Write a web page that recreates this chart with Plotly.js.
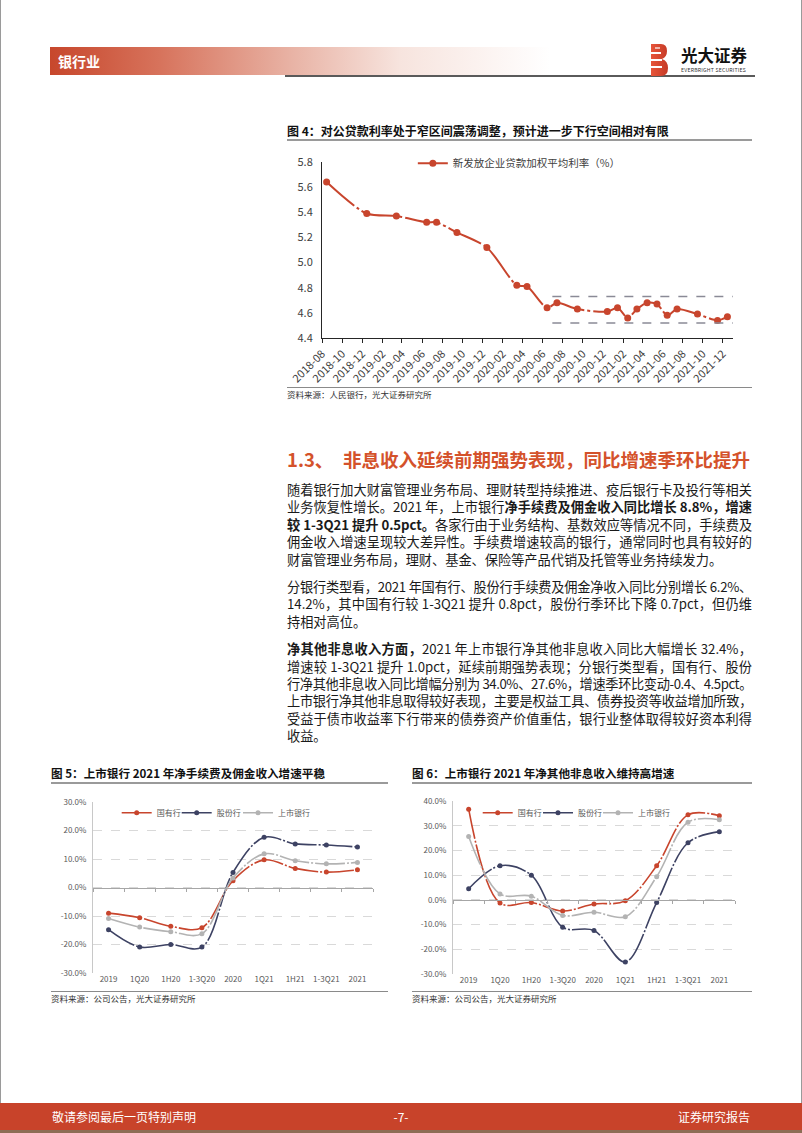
<!DOCTYPE html>
<html><head><meta charset="utf-8">
<script src="https://cdn.plot.ly/plotly-3.0.1.min.js"></script>
<style>
html,body{margin:0;padding:0;background:#fff;}
#page{position:relative;width:802px;height:1133px;overflow:hidden;font-family:"Noto Sans CJK SC","Noto Sans",sans-serif;color:#1a1a1a;}
.abs{position:absolute;white-space:nowrap;}
.line{position:absolute;left:287px;width:465px;height:18px;line-height:18px;font-size:13.2px;text-align:justify;text-align-last:justify;white-space:nowrap;}
.line.last{text-align:left;text-align-last:left;}
.line b{font-weight:700;}
.ctitle{position:absolute;font-weight:700;white-space:nowrap;color:#111;}
.rule{position:absolute;height:0;border-top:2px solid #9a9a9a;}
.rule1{position:absolute;height:0;border-top:1px solid #8a8a8a;}
.src{position:absolute;font-size:8.5px;color:#333;white-space:nowrap;}
.chart{position:absolute;}
</style></head>
<body>
<div id="page">
  <div class="abs" style="left:0;top:0;width:1px;height:1133px;background:#9a9a9a"></div>
  <div class="abs" style="left:801px;top:0;width:1px;height:1133px;background:#9a9a9a"></div>

  <!-- header -->
  <div class="abs" style="left:50px;top:47px;width:500px;height:28px;background:linear-gradient(to right,#c7472c 0%,#d7735c 22%,#e8b2a4 48%,#f7e4de 70%,#ffffff 100%);"></div>
  <div class="abs" style="left:58px;top:51px;font-size:14px;line-height:20px;font-weight:700;color:#fff;">银行业</div>
  <div class="abs" style="left:285px;top:75px;width:470px;height:2px;background:#5a5a5a;"></div>
  <svg class="abs" style="left:650px;top:43px" width="20" height="34" viewBox="0 0 20 34">
    <defs><linearGradient id="lg" x1="0" y1="0" x2="1" y2="0"><stop offset="0" stop-color="#e7553a"/><stop offset="1" stop-color="#c53a26"/></linearGradient></defs>
    <path d="M1 1 H11 Q17 1 17 8 Q17 14 12 16 Q18 18 18 25 Q18 33 11 33 H1 Z" fill="url(#lg)"/>
    <rect x="0" y="9" width="11" height="2" fill="#fff"/>
    <rect x="0" y="16" width="12" height="2" fill="#fff"/>
    <rect x="0" y="23" width="12" height="2" fill="#fff"/>
    <rect x="5" y="4" width="5" height="2" fill="#fff" opacity="0.6"/>
  </svg>
  <div class="abs" style="left:681px;top:45px;font-size:16.5px;line-height:20px;font-weight:700;color:#111;">光大证券</div>
  <div class="abs" style="left:681px;top:66px;font-size:5.2px;line-height:7px;color:#333;letter-spacing:0.2px;">EVERBRIGHT SECURITIES</div>

  <!-- figure 4 -->
  <div class="ctitle" style="left:287px;top:122px;font-size:12px;line-height:17px;">图 4：对公贷款利率处于窄区间震荡调整，预计进一步下行空间相对有限</div>
  <div class="rule" style="left:287px;top:139px;width:465px;"></div>
  <div id="c4" class="chart" style="left:250px;top:145px;width:520px;height:260px;"></div>
  <div class="rule1" style="left:287px;top:387px;width:465px;"></div>
  <div class="src" style="left:287px;top:388px;line-height:12px;">资料来源：人民银行，光大证券研究所</div>

  <!-- section heading -->
  <div class="abs" style="left:287px;top:447px;font-size:18.5px;line-height:24px;font-weight:700;color:#d4522b;">1.3、</div>
  <div class="abs" style="left:343px;top:447px;font-size:18.5px;line-height:24px;font-weight:700;color:#d4522b;">非息收入延续前期强势表现，同比增速季环比提升</div>

  <div id="body"></div>

  <!-- figure 5 & 6 -->
  <div class="ctitle" style="left:51px;top:765px;font-size:11.6px;line-height:16px;">图 5：上市银行 2021 年净手续费及佣金收入增速平稳</div>
  <div class="rule" style="left:51px;top:782px;width:337px;"></div>
  <div class="ctitle" style="left:412px;top:765px;font-size:11.6px;line-height:16px;">图 6：上市银行 2021 年净其他非息收入维持高增速</div>
  <div class="rule" style="left:412px;top:782px;width:340px;"></div>
  <div id="c5" class="chart" style="left:40px;top:790px;width:350px;height:200px;"></div>
  <div id="c6" class="chart" style="left:405px;top:790px;width:350px;height:200px;"></div>
  <div class="rule1" style="left:51px;top:991px;width:337px;"></div>
  <div class="src" style="left:51px;top:992px;line-height:12px;">资料来源：公司公告，光大证券研究所</div>
  <div class="rule1" style="left:412px;top:991px;width:340px;"></div>
  <div class="src" style="left:412px;top:992px;line-height:12px;">资料来源：公司公告，光大证券研究所</div>

  <!-- footer -->
  <div class="abs" style="left:0;top:1103px;width:802px;height:27px;background:#c8432a;"></div>
  <div class="abs" style="left:0;top:1130px;width:802px;height:3px;background:#8d6d55;"></div>
  <div class="abs" style="left:52px;top:1108px;font-size:12px;line-height:17px;color:#fff;">敬请参阅最后一页特别声明</div>
  <div class="abs" style="left:391px;top:1108px;width:20px;text-align:center;font-size:12px;line-height:17px;color:#fff;">-7-</div>
  <div class="abs" style="left:678px;top:1108px;font-size:12px;line-height:17px;color:#fff;">证券研究报告</div>
</div>

<script>
// ---------------- text ----------------
const para1 = [
 '随着银行加大财富管理业务布局、理财转型持续推进、疫后银行卡及投行等相关',
 '业务恢复性增长。2021 年，上市银行<b>净手续费及佣金收入同比增长 8.8%，增速</b>',
 '<b>较 1-3Q21 提升 0.5pct。</b>各家行由于业务结构、基数效应等情况不同，手续费及',
 '佣金收入增速呈现较大差异性。手续费增速较高的银行，通常同时也具有较好的',
 '财富管理业务布局，理财、基金、保险等产品代销及托管等业务持续发力。'
];
const para2 = [
 '分银行类型看，2021 年国有行、股份行手续费及佣金净收入同比分别增长 6.2%、',
 '14.2%，其中国有行较 1-3Q21 提升 0.8pct，股份行季环比下降 0.7pct，但仍维',
 '持相对高位。'
];
const para3 = [
 '<b>净其他非息收入方面，</b>2021 年上市银行净其他非息收入同比大幅增长 32.4%，',
 '增速较 1-3Q21 提升 1.0pct，延续前期强势表现；分银行类型看，国有行、股份',
 '行净其他非息收入同比增幅分别为 34.0%、27.6%，增速季环比变动-0.4、4.5pct。',
 '上市银行净其他非息取得较好表现，主要是权益工具、债券投资等收益增加所致，',
 '受益于债市收益率下行带来的债券资产价值重估，银行业整体取得较好资本利得',
 '收益。'
];

(function(){
  const body = document.getElementById('body');
  const lineH = 17.4, gap = 10;
  let c = 490;
  [para1, para2, para3].forEach((p) => {
    p.forEach((t, i) => {
      const d = document.createElement('div');
      d.className = 'line' + (i === p.length - 1 ? ' last' : '');
      d.style.top = (c - 9) + 'px';
      d.innerHTML = t;
      body.appendChild(d);
      // squeeze lines that are naturally wider than the column
      if (i !== p.length - 1) {
        const probe = document.createElement('span');
        probe.style.cssText = 'position:absolute;visibility:hidden;white-space:nowrap;font-size:13.2px;';
        probe.innerHTML = t;
        body.appendChild(probe);
        const w = probe.getBoundingClientRect().width;
        body.removeChild(probe);
        if (w > 463) {
          const n = probe.textContent.length;
          d.style.letterSpacing = (-(w - 462) / n).toFixed(3) + 'px';
        }
      }
      c += lineH;
    });
    c += gap;
  });
})();

// ---------------- chart data ----------------
const F = '"Noto Sans CJK SC","Noto Sans",sans-serif';
const RED = '#c8452d', NAVY = '#3d4263', GRAY = '#b3b3b3';

// Figure 4
const months4 = ['2018-08','2018-12','2019-03','2019-06','2019-07','2019-09','2019-12','2020-03','2020-04','2020-06','2020-07','2020-09','2020-12','2021-01','2021-02','2021-03','2021-04','2021-05','2021-06','2021-07','2021-09','2021-11','2021-12'];
const rate4 = [5.64,5.39,5.37,5.32,5.32,5.24,5.12,4.82,4.81,4.64,4.68,4.63,4.61,4.64,4.56,4.63,4.68,4.67,4.58,4.63,4.59,4.54,4.57];
const xTicks4 = ['2018-08','2018-10','2018-12','2019-02','2019-04','2019-06','2019-08','2019-10','2019-12','2020-02','2020-04','2020-06','2020-08','2020-10','2020-12','2021-02','2021-04','2021-06','2021-08','2021-10','2021-12'];
const seriesName4 = '新发放企业贷款加权平均利率（%）';
const bandTop4 = 4.73, bandBottom4 = 4.52, bandStart4 = '2020-07';

// Figures 5 & 6
const periods = ['2019','1Q20','1H20','1-3Q20','2020','1Q21','1H21','1-3Q21','2021'];
const seriesNames = ['国有行','股份行','上市银行'];
const fee_soe = [-9.0,-10.6,-13.6,-14.1,2.4,9.7,6.7,5.4,6.2];
const fee_jsb = [-14.8,-20.9,-20.0,-20.9,5.3,17.6,15.3,14.9,14.2];
const fee_all = [-10.9,-13.9,-15.5,-16.2,3.3,11.8,9.4,8.3,8.8];
const oth_soe = [36.7,-1.3,-1.1,-4.5,-1.7,-0.4,13.8,34.4,34.0];
const oth_jsb = [4.5,13.8,10.0,-11.1,-12.4,-25.1,-1.1,23.1,27.6];
const oth_all = [25.6,2.4,1.5,-6.3,-5.0,-6.8,9.4,31.4,32.4];
const yTicks5 = [-30,-20,-10,0,10,20,30];
const yLabels5 = ['-30.0%','-20.0%','-10.0%','0.0%','10.0%','20.0%','30.0%'];
const yTicks6 = [-30,-20,-10,0,10,20,30,40];
const yLabels6 = ['-30.0%','-20.0%','-10.0%','0.0%','10.0%','20.0%','30.0%','40.0%'];

// ---------------- figure 4 ----------------
Plotly.newPlot('c4', [{
  x: months4.map(m => m + '-15'), y: rate4, type: 'scatter', mode: 'lines+markers',
  name: seriesName4,
  line: {color: RED, width: 2, shape: 'spline', smoothing: 0.8, dash: '36px,3px,3px,3px'},
  marker: {color: RED, size: 7}
}], {
  width: 520, height: 260, margin: {l: 72, r: 37, t: 17, b: 67, autoexpand: false},
  paper_bgcolor: 'rgba(0,0,0,0)', plot_bgcolor: 'rgba(0,0,0,0)',
  font: {family: F, size: 11, color: '#404040'},
  showlegend: true,
  legend: {x: 0.221, y: 0.9296, yref: 'container', xanchor: 'left', yanchor: 'middle', orientation: 'h',
           bgcolor: 'rgba(0,0,0,0)', font: {size: 10.5, color: '#404040'}},
  xaxis: {type: 'date', range: ['2018-08-01', '2022-01-01'],
          tickvals: xTicks4.map(m => m + '-01'), ticktext: xTicks4, tickangle: -45,
          ticks: 'outside', ticklen: 4, tickcolor: '#262626',
          showline: true, linecolor: '#262626', linewidth: 1, showgrid: false, zeroline: false,
          tickfont: {size: 11, color: '#404040'}},
  yaxis: {range: [4.4, 5.8], tickvals: [4.4,4.6,4.8,5.0,5.2,5.4,5.6,5.8], tickformat: '.1f',
          showline: true, linecolor: '#262626', linewidth: 1, showgrid: false, zeroline: false,
          ticks: '', ticklabelstandoff: 6, tickfont: {size: 11, color: '#404040'}},
  shapes: [bandTop4, bandBottom4].map(v => ({
    type: 'line', xref: 'x', yref: 'y', x0: bandStart4 + '-01', x1: '2022-01-01', y0: v, y1: v,
    line: {color: '#8a8a96', width: 1.5, dash: 'dash'}
  }))
}, {staticPlot: true});

// ---------------- figures 5 & 6 ----------------
function growthChart(id, soe, jsb, all, yRange, tickv, tickt, zeroPos, legXs, legY, width, margin) {
  const mk = (y, name, color, leg) => ({
    x: periods, y: y, type: 'scatter', mode: 'lines+markers', name: name, legend: leg,
    line: {color: color, width: 1.6, shape: 'spline', smoothing: 1, dash: '30px,2px,2px,2px'},
    marker: {color: color, size: 5}
  });
  const traces = [
    mk(soe, seriesNames[0], RED, 'legend'),
    mk(jsb, seriesNames[1], NAVY, 'legend2'),
    mk(all, seriesNames[2], GRAY, 'legend3'),
    {x: [], y: [], xaxis: 'x2', yaxis: 'y', type: 'scatter', mode: 'lines', showlegend: false, hoverinfo: 'skip'}
  ];
  const legendBase = {y: legY, yref: 'container', xanchor: 'left', yanchor: 'middle', orientation: 'h',
                      bgcolor: 'rgba(0,0,0,0)', font: {size: 8, color: '#595959'}};
  const bounds = periods.map((p, i) => i - 0.5).concat([periods.length - 0.5]);
  Plotly.newPlot(id, traces, {
    width: width, height: 200, margin: Object.assign({autoexpand: false}, margin),
    paper_bgcolor: 'rgba(0,0,0,0)', plot_bgcolor: 'rgba(0,0,0,0)',
    font: {family: F, size: 8, color: '#595959'},
    showlegend: true,
    legend: Object.assign({x: legXs[0]}, legendBase),
    legend2: Object.assign({x: legXs[1]}, legendBase),
    legend3: Object.assign({x: legXs[2]}, legendBase),
    xaxis: {type: 'category', range: [-0.5, periods.length - 0.5], ticks: '', showline: false,
            showgrid: false, zeroline: false, tickfont: {size: 8, color: '#595959'}},
    xaxis2: {type: 'linear', overlaying: 'x', anchor: 'free', position: zeroPos,
             range: [-0.5, periods.length - 0.5], tickvals: bounds, ticks: 'outside', ticklen: 3,
             tickcolor: '#a6a6a6', showline: true, linecolor: '#a6a6a6', linewidth: 1,
             showticklabels: false, showgrid: false, zeroline: false},
    yaxis: {range: yRange, tickvals: tickv, ticktext: tickt, showgrid: true, gridcolor: '#d9d9d9',
            griddash: 'dash', gridwidth: 1, showline: true, linecolor: '#c8c8c8', zeroline: false,
            ticks: '', ticklabelstandoff: 4, tickfont: {size: 8, color: '#595959'}}
  }, {staticPlot: true});
}
growthChart('c5', fee_soe, fee_jsb, fee_all, [-30, 30], yTicks5, yLabels5, 0.5,
            [0.0846, 0.2989, 0.5179], 0.8865, 350, {l: 53, r: 17, t: 12, b: 17});
growthChart('c6', oth_soe, oth_jsb, oth_all, [-30, 40], yTicks6, yLabels6, 30/70,
            [0.0876, 0.3014, 0.5142], 0.8865, 350, {l: 48, r: 20, t: 11, b: 16});
</script>
</body></html>
